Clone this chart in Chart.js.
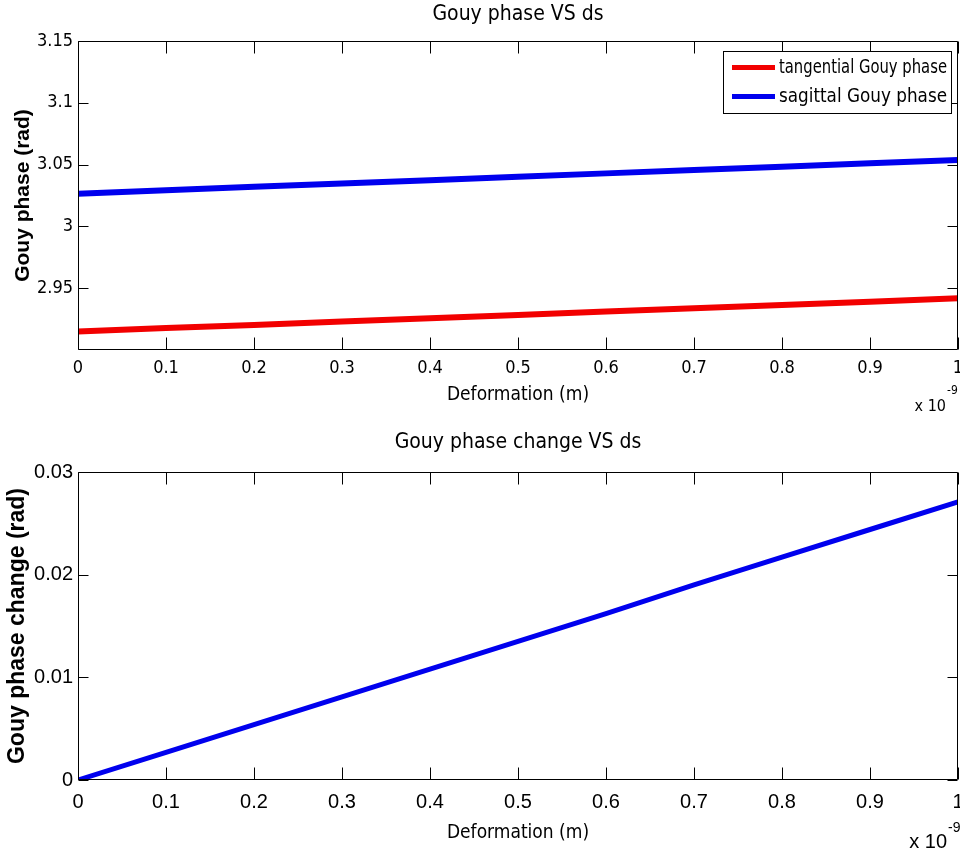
<!DOCTYPE html>
<html>
<head>
<meta charset="utf-8">
<title>Gouy phase VS ds</title>
<script src="https://cdn.jsdelivr.net/npm/chart.js@4.4.0/dist/chart.umd.min.js"></script>
<style>
  html, body { margin: 0; padding: 0; background: #fff; overflow: hidden; }
  #wrap { position: relative; width: 960px; height: 856px; }
  canvas { position: absolute; left: 0; }
  #phase-chart { top: 0; }
  #change-chart { top: 420px; }
</style>
</head>
<body>
<div id="wrap">
  <canvas id="phase-chart" width="960" height="420"></canvas>
  <canvas id="change-chart" width="960" height="436"></canvas>
</div>
<script>
// deformation, in units of 1e-9 m
const deformation = [0, 0.1, 0.2, 0.3, 0.4, 0.5, 0.6, 0.7, 0.8, 0.9, 1];
const tangential = [2.9150, 2.9177, 2.9203, 2.9230, 2.9257, 2.9284, 2.9311, 2.9337, 2.9364, 2.9391, 2.9418];
const sagittal = [3.0265, 3.0292, 3.0320, 3.0347, 3.0374, 3.0402, 3.0429, 3.0456, 3.0483, 3.0510, 3.0537];
const phaseChange = [0, 0.0027, 0.0054, 0.0081, 0.0108, 0.0135, 0.0162, 0.0190, 0.0217, 0.0244, 0.0271];

const xTicks = [0, 0.1, 0.2, 0.3, 0.4, 0.5, 0.6, 0.7, 0.8, 0.9, 1];
const phaseTicks = [2.95, 3, 3.05, 3.1, 3.15];
const changeTicks = [0, 0.01, 0.02, 0.03];

const NARROW = "'Liberation Sans Narrow', 'DejaVu Sans Condensed', 'Arial Narrow', sans-serif";
const ARIAL = "'Liberation Sans', Arial, sans-serif";

const fmt = (v, d) => String(Number(v.toFixed(d)));
const points = (ys) => deformation.map((x, i) => ({ x: x, y: ys[i] }));

// box + inward ticks on all four sides, like a matlab axes
const matlabAxes = {
  id: "matlabAxes",
  afterDatasetsDraw(chart, args, opts) {
    const { ctx, chartArea: a, scales } = chart;
    const left = Math.round(a.left) + 0.5;
    const right = Math.round(a.right) - 0.5;
    const top = Math.round(a.top) + 0.5;
    const bottom = Math.round(a.bottom) - 0.5;
    ctx.save();
    ctx.strokeStyle = "#000";
    ctx.lineWidth = 1;
    ctx.beginPath();
    scales.x.ticks.forEach((t) => {
      const px = Math.round(scales.x.getPixelForValue(t.value)) + 0.5;
      ctx.moveTo(px, bottom);
      ctx.lineTo(px, bottom - opts.xTick);
      ctx.moveTo(px, top);
      ctx.lineTo(px, top + opts.xTick);
    });
    scales.y.ticks.forEach((t) => {
      const py = Math.round(scales.y.getPixelForValue(t.value)) + 0.5;
      ctx.moveTo(left, py);
      ctx.lineTo(left + opts.yTick, py);
      ctx.moveTo(right, py);
      ctx.lineTo(right - opts.yTick, py);
    });
    ctx.rect(left, top, right - left, bottom - top);
    ctx.stroke();
    ctx.restore();
  },
};

// "x 10^-9" multiplier under the right end of the x axis
const exponent = {
  id: "exponent",
  afterDraw(chart, args, opts) {
    const { ctx, chartArea: a } = chart;
    const x = a.right - opts.dx;
    ctx.save();
    ctx.fillStyle = "#000";
    ctx.textBaseline = "middle";
    ctx.textAlign = "right";
    ctx.font = opts.size + "px " + opts.family;
    ctx.fillText("x 10", x, a.bottom + opts.dy);
    ctx.textAlign = "left";
    ctx.font = opts.supSize + "px " + opts.family;
    ctx.fillText("-9", x + 1, a.bottom + opts.dy - opts.supRise);
    ctx.restore();
  },
};

// boxed legend in the upper right corner of the plot
const boxLegend = {
  id: "boxLegend",
  afterDraw(chart, args, opts) {
    if (!opts.show) return;
    const { ctx, chartArea: a } = chart;
    const sets = chart.data.datasets;
    const x1 = a.right - opts.right;
    const x0 = x1 - opts.width;
    const y0 = a.top + opts.top;
    const h = opts.rowHeight * sets.length + opts.pad;
    ctx.save();
    ctx.fillStyle = "#fff";
    ctx.fillRect(x0, y0, opts.width, h);
    ctx.strokeStyle = "#000";
    ctx.lineWidth = 1;
    ctx.strokeRect(Math.round(x0) + 0.5, Math.round(y0) + 0.5, opts.width, h);
    ctx.font = opts.size + "px " + NARROW;
    ctx.textBaseline = "middle";
    ctx.textAlign = "left";
    sets.forEach((ds, i) => {
      const y = y0 + opts.pad / 2 + opts.rowHeight * (i + 0.5);
      ctx.strokeStyle = ds.borderColor;
      ctx.lineWidth = 5;
      ctx.beginPath();
      ctx.moveTo(x0 + 9, y);
      ctx.lineTo(x0 + 52, y);
      ctx.stroke();
      ctx.fillStyle = "#000";
      ctx.fillText(ds.label, x0 + 56, y, x1 - x0 - 60);
    });
    ctx.restore();
  },
};

function xScale(tickFont, tickPad, titleFont, titlePad, height) {
  return {
    type: "linear",
    min: 0,
    max: 1,
    afterBuildTicks: (s) => {
      s.ticks = xTicks.map((v) => ({ value: v }));
    },
    afterFit: (s) => {
      s.height = height;
      s.paddingLeft = 0;
      s.paddingRight = 0;
    },
    ticks: {
      color: "#000",
      padding: tickPad,
      maxRotation: 0,
      autoSkip: false,
      font: tickFont,
      callback: (v) => fmt(v, 1),
    },
    grid: { display: false, drawTicks: false },
    border: { display: false },
    title: {
      display: true,
      text: "Deformation (m)",
      color: "#000",
      font: titleFont,
      padding: { top: 0, bottom: titlePad },
    },
  };
}

function yScale(min, max, tickList, tickFont, label, labelFont, labelPad) {
  return {
    min: min,
    max: max,
    afterBuildTicks: (s) => {
      s.ticks = tickList.map((v) => ({ value: v }));
    },
    afterFit: (s) => {
      s.width = 78;
      s.paddingTop = 0;
      s.paddingBottom = 0;
    },
    ticks: {
      color: "#000",
      padding: 5,
      font: tickFont,
      callback: (v) => fmt(v, 2),
    },
    grid: { display: false, drawTicks: false },
    border: { display: false },
    title: {
      display: true,
      text: label,
      color: "#000",
      font: labelFont,
      padding: { top: labelPad, bottom: 0 },
    },
  };
}

new Chart(document.getElementById("phase-chart").getContext("2d"), {
  type: "line",
  data: {
    datasets: [
      {
        label: "tangential Gouy phase",
        data: points(tangential),
        borderColor: "#f20000",
        borderWidth: 6,
        pointRadius: 0,
        tension: 0,
      },
      {
        label: "sagittal Gouy phase",
        data: points(sagittal),
        borderColor: "#0000ee",
        borderWidth: 6,
        pointRadius: 0,
        tension: 0,
      },
    ],
  },
  options: {
    responsive: false,
    animation: false,
    layout: { padding: { right: 2 } },
    plugins: {
      legend: { display: false },
      tooltip: { enabled: false },
      title: {
        display: true,
        fullSize: false,
        text: "Gouy phase VS ds",
        color: "#000",
        font: { family: NARROW, size: 21, weight: "normal" },
        padding: { top: 2.4, bottom: 13.4 },
      },
      matlabAxes: { xTick: 12, yTick: 10 },
      exponent: { family: NARROW, size: 16, supSize: 12, dx: 12, dy: 57, supRise: 16 },
      boxLegend: { show: true, right: 7, top: 10, width: 228, rowHeight: 29, pad: 4, size: 20 },
    },
    scales: {
      x: xScale({ family: NARROW, size: 18 }, 7.2, { family: NARROW, size: 19 }, 13.6, 70),
      y: yScale(2.9, 3.15, phaseTicks, { family: NARROW, size: 18 },
        "Gouy phase (rad)", { family: ARIAL, size: 21, weight: "bold" }, 11),
    },
  },
  plugins: [matlabAxes, exponent, boxLegend],
});

new Chart(document.getElementById("change-chart").getContext("2d"), {
  type: "line",
  data: {
    datasets: [
      {
        label: "Gouy phase change",
        data: points(phaseChange),
        borderColor: "#0000ee",
        borderWidth: 5,
        pointRadius: 0,
        tension: 0,
      },
    ],
  },
  options: {
    responsive: false,
    animation: false,
    layout: { padding: { right: 2 } },
    plugins: {
      legend: { display: false },
      tooltip: { enabled: false },
      title: {
        display: true,
        fullSize: false,
        text: "Gouy phase change VS ds",
        color: "#000",
        font: { family: NARROW, size: 21, weight: "normal" },
        padding: { top: 10.4, bottom: 16.4 },
      },
      matlabAxes: { xTick: 12, yTick: 10 },
      exponent: { family: ARIAL, size: 20, supSize: 14, dx: 11, dy: 62, supRise: 14 },
      boxLegend: { show: false },
    },
    scales: {
      x: xScale({ family: ARIAL, size: 20 }, 10, { family: NARROW, size: 19 }, 11.6, 76),
      y: yScale(0, 0.03, changeTicks, { family: ARIAL, size: 20 },
        "Gouy phase change (rad)", { family: ARIAL, size: 23, weight: "bold" }, 4),
    },
  },
  plugins: [matlabAxes, exponent, boxLegend],
});
</script>
</body>
</html>
